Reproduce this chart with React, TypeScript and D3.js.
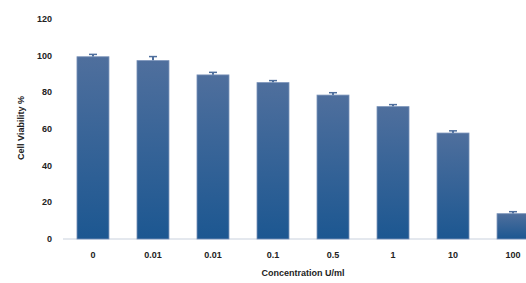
import React, { useRef, useEffect } from 'react';
import * as d3 from 'd3';

const categories = ['0', '0.01', '0.01', '0.1', '0.5', '1', '10', '100'];
const viability = [99.4, 97.3, 89.5, 85.3, 78.5, 72.2, 57.8, 13.8];
const errors = [1.3, 2.2, 1.4, 1.1, 1.3, 1.1, 1.2, 1.1];
const yTicks = [0, 20, 40, 60, 80, 100, 120];

const App = () => {
    const svgRef = useRef<SVGSVGElement>(null);

    useEffect(() => {
        const svg = d3.select(svgRef.current);
        svg.selectAll('*').remove();

        const left = 63, right = 543, top = 19, bottom = 239;
        const font = "'Liberation Sans', Arial, sans-serif";

        const x = d3.scaleBand()
            .domain(categories.map((c, i) => i + ''))
            .range([left, right])
            .paddingInner(0.467)
            .paddingOuter(0.233);

        const y = d3.scaleLinear()
            .domain([0, 120])
            .range([bottom, top]);

        const grad = svg.append('defs').append('linearGradient')
            .attr('id', 'barGrad')
            .attr('x1', 0).attr('y1', 0).attr('x2', 0).attr('y2', 1);
        grad.append('stop').attr('offset', '0%').attr('stop-color', '#4f6f9d');
        grad.append('stop').attr('offset', '100%').attr('stop-color', '#1c5791');

        // axis line
        svg.append('line')
            .attr('x1', left).attr('x2', 526)
            .attr('y1', bottom).attr('y2', bottom)
            .attr('stroke', '#c9d2de').attr('stroke-width', 1.2);

        // y tick labels
        svg.append('g').selectAll('text')
            .data(yTicks)
            .enter()
            .append('text')
            .attr('x', 52)
            .attr('y', (d) => y(d) + 3)
            .attr('text-anchor', 'end')
            .attr('font-family', font)
            .attr('font-weight', 'bold')
            .attr('font-size', 9)
            .attr('fill', '#222')
            .text((d) => d);

        // error bars
        const eb = svg.append('g');
        viability.forEach((v, i) => {
            const cx = (x(i + '') as number) + x.bandwidth() / 2;
            eb.append('line')
                .attr('x1', cx).attr('x2', cx)
                .attr('y1', y(v)).attr('y2', y(v + errors[i]))
                .attr('stroke', '#4f6f9d').attr('stroke-width', 2);
            eb.append('line')
                .attr('x1', cx - 4).attr('x2', cx + 4)
                .attr('y1', y(v + errors[i])).attr('y2', y(v + errors[i]))
                .attr('stroke', '#4f6f9d').attr('stroke-width', 1.5);
        });

        // bars
        svg.append('g').selectAll('rect')
            .data(viability)
            .enter()
            .append('rect')
            .attr('x', (d, i) => x(i + '') as number)
            .attr('y', (d) => y(d))
            .attr('width', x.bandwidth())
            .attr('height', (d) => bottom - y(d))
            .attr('fill', 'url(#barGrad)')
            .attr('stroke', '#7891b8')
            .attr('stroke-width', 0.8);

        // x labels
        svg.append('g').selectAll('text')
            .data(categories)
            .enter()
            .append('text')
            .attr('x', (d, i) => (x(i + '') as number) + x.bandwidth() / 2)
            .attr('y', 258)
            .attr('text-anchor', 'middle')
            .attr('font-family', font)
            .attr('font-weight', 'bold')
            .attr('font-size', 9)
            .attr('fill', '#222')
            .text((d) => d);

        svg.append('text')
            .attr('x', (left + right) / 2)
            .attr('y', 276)
            .attr('text-anchor', 'middle')
            .attr('font-family', font)
            .attr('font-weight', 'bold')
            .attr('font-size', 9)
            .attr('fill', '#222')
            .text('Concentration U/ml');

        svg.append('text')
            .attr('transform', 'translate(24, 128) rotate(-90)')
            .attr('text-anchor', 'middle')
            .attr('font-family', font)
            .attr('font-weight', 'bold')
            .attr('font-size', 9)
            .attr('fill', '#222')
            .text('Cell Viability %');
    }, []);

    return (
        <svg ref={svgRef} width={526} height={283}
            style={{ position: 'absolute', left: 0, top: 0, background: '#fff' }}></svg>
    );
};

export default App;
